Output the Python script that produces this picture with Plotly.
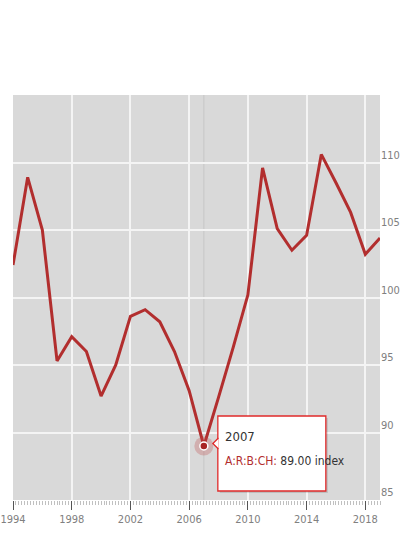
import plotly.graph_objects as go

years = list(range(1994, 2020))
values = [102.4, 108.9, 105.0, 95.3, 97.1, 96.0, 92.7, 95.0, 98.6, 99.1,
          98.2, 96.0, 93.1, 89.0, 92.6, 96.3, 100.2, 109.6, 105.1, 103.5,
          104.6, 110.6, 108.5, 106.3, 103.2, 104.4]
series_name = "A:R:B:CH:"
unit = "index"
hover_year = 2007
hover_value = values[years.index(hover_year)]
x_tickvals = [1994, 1998, 2002, 2006, 2010, 2014, 2018]
y_tickvals = [85, 90, 95, 100, 105, 110]

FONT = "DejaVu Sans Condensed, Liberation Sans Narrow, sans-serif"
RED = "#b22e2e"

fig = go.Figure()
fig.add_trace(go.Scatter(x=years, y=values, mode="lines",
                         line=dict(color=RED, width=3), hoverinfo="skip",
                         showlegend=False))
fig.add_trace(go.Scatter(x=[hover_year], y=[hover_value], mode="markers",
                         marker=dict(size=19, color="rgba(190,70,70,0.28)", line=dict(width=0)),
                         hoverinfo="skip", showlegend=False))
fig.add_trace(go.Scatter(x=[hover_year], y=[hover_value], mode="markers",
                         marker=dict(size=8, color="#a82424", line=dict(width=1.5, color="white")),
                         hoverinfo="skip", showlegend=False))

BOX_X0, BOX_X1 = 14, 122
shapes = [
    dict(type="line", xref="x", yref="paper", x0=hover_year, x1=hover_year, y0=0, y1=1,
         line=dict(color="#c6c6c6", width=1), layer="between"),
    dict(type="rect", xref="x", yref="y", xsizemode="pixel", ysizemode="pixel",
         xanchor=hover_year, yanchor=hover_value, x0=BOX_X0 + 2, x1=BOX_X1 + 2, y0=-47, y1=28,
         fillcolor="rgba(0,0,0,0.12)", line=dict(width=0), layer="above"),
    dict(type="rect", xref="x", yref="y", xsizemode="pixel", ysizemode="pixel",
         xanchor=hover_year, yanchor=hover_value, x0=BOX_X0, x1=BOX_X1, y0=-45, y1=30,
         fillcolor="white", line=dict(color="#e02a2a", width=1.3), layer="above"),
    dict(type="path", xref="x", yref="y", xsizemode="pixel", ysizemode="pixel",
         xanchor=hover_year, yanchor=hover_value,
         path="M 14.6,8 L 9,2.5 L 14.6,-3", fillcolor="white",
         line=dict(color="#e02a2a", width=1.3), layer="above"),
]

annotations = [
    dict(x=hover_year, y=hover_value, xref="x", yref="y", xanchor="left", yanchor="middle",
         xshift=19, yshift=10, showarrow=False, text=str(hover_year),
         font=dict(family=FONT, size=13, color="#333333")),
    dict(x=hover_year, y=hover_value, xref="x", yref="y", xanchor="left", yanchor="middle",
         xshift=19, yshift=-15, showarrow=False,
         text=f"<span style='color:{RED}'>{series_name}</span> {hover_value:.2f} {unit}",
         font=dict(family=FONT, size=12, color="#333333")),
]

fig.update_layout(
    width=400, height=538,
    margin=dict(l=13, r=20, t=95, b=38),
    paper_bgcolor="white", plot_bgcolor="#d9d9d9",
    shapes=shapes, annotations=annotations,
    font=dict(family=FONT, color="#808080", size=11),
    xaxis=dict(range=[1993.9999, 2019], tickvals=x_tickvals, showgrid=True,
               gridcolor="#f4f4f4", gridwidth=1.5, zeroline=False, showline=False,
               automargin=False, ticklabeloverflow="allow",
               ticks="outside", ticklen=9, tickcolor="#555555", tickwidth=1,
               minor=dict(dtick=0.2, tick0=1994, ticks="outside", ticklen=4,
                          tickcolor="#c0c0c0", showgrid=False),
               tickfont=dict(family=FONT, size=11, color="#808080")),
    yaxis=dict(range=[85, 115], tickvals=y_tickvals, side="right", showgrid=True,
               gridcolor="#f4f4f4", gridwidth=2, zeroline=False, showline=False,
               automargin=False, ticklabeloverflow="allow", ticklabelstandoff=0,
               ticks="", ticklabelposition="outside top",
               tickfont=dict(family=FONT, size=11, color="#808080")),
)

fig.write_html("out.html")
